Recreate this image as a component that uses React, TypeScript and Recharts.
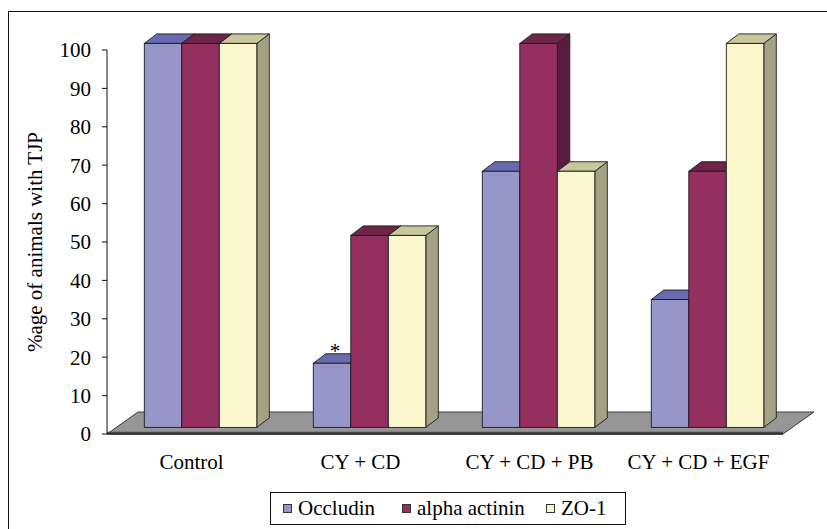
import React from 'react';
import { BarChart, Bar, XAxis, YAxis, ReferenceArea, Legend, LabelList } from 'recharts';

const SERIF = '"Liberation Serif", "Times New Roman", serif';

const groups = ['Control', 'CY + CD', 'CY + CD + PB', 'CY + CD + EGF'];
const occludin = [100, 16.7, 66.7, 33.3];
const alphaActinin = [100, 50, 100, 66.7];
const zo1 = [100, 50, 66.7, 100];
const occludinMarks = ['', '*', '', ''];
const yTicks = [0, 10, 20, 30, 40, 50, 60, 70, 80, 90, 100];
const edgeTicks = [0, 1, 2, 3, 4];

const data = groups.map((name, i) => ({
  name,
  occludin: occludin[i],
  alpha: alphaActinin[i],
  zo1: zo1[i],
  mark: occludinMarks[i],
}));

const series = [
  { key: 'occludin', name: 'Occludin', front: '#9696C8', top: '#6A6AB0', side: '#56568F' },
  { key: 'alpha', name: 'alpha actinin', front: '#952F5F', top: '#6F244A', side: '#5C1C3F' },
  { key: 'zo1', name: 'ZO-1', front: '#FAF7CE', top: '#C9C69C', side: '#A4A283' },
];

// pseudo 3-D: floor depth, where the bars sit on it, and bar depth
const FLOOR_DX = 31;
const FLOOR_DY = -22;
const SHIFT_X = 9.3;
const SHIFT_Y = -6.6;
const DEPTH_X = 12.5;
const DEPTH_Y = -9.5;
const EDGE = '#1c1c1c';

function makeBox(c: { front: string; top: string; side: string }) {
  return (props: any) => {
    const { x, y, width, height } = props;
    if (x == null || width == null || height == null) return <g />;
    const fx = x + SHIFT_X;
    const fy = y + SHIFT_Y;
    const w = width;
    const h = height;
    const top = `${fx},${fy} ${fx + DEPTH_X},${fy + DEPTH_Y} ${fx + w + DEPTH_X},${fy + DEPTH_Y} ${fx + w},${fy}`;
    const side = `${fx + w},${fy} ${fx + w + DEPTH_X},${fy + DEPTH_Y} ${fx + w + DEPTH_X},${fy + h + DEPTH_Y} ${fx + w},${fy + h}`;
    return (
      <g>
        <polygon points={side} fill={c.side} stroke={EDGE} strokeWidth={0.9} strokeLinejoin="round" />
        <polygon points={top} fill={c.top} stroke={EDGE} strokeWidth={0.9} strokeLinejoin="round" />
        <rect x={fx} y={fy} width={w} height={h} fill={c.front} stroke={EDGE} strokeWidth={0.9} />
      </g>
    );
  };
}

const Floor = (props: any) => {
  const { x, y, width, height } = props;
  const by = y + height;
  const pts = `${x},${by} ${x + FLOOR_DX},${by + FLOOR_DY} ${x + width + FLOOR_DX},${by + FLOOR_DY} ${x + width},${by}`;
  return (
    <g>
      <polygon points={pts} fill="#969696" stroke="#3a3a3a" strokeWidth={1} />
      <line x1={x} y1={by - 1} x2={x + width} y2={by - 1} stroke="#4a4a4a" strokeWidth={2.5} />
    </g>
  );
};

const CategoryTick = (props: any) => {
  const { x, y, payload } = props;
  return (
    <text x={x} y={y} dy={35} textAnchor="middle" fontSize={21} fontFamily={SERIF} fill="#000">
      {payload.value}
    </text>
  );
};

const StarLabel = (props: any) => {
  const { x, y, width, value } = props;
  if (!value) return null;
  return (
    <text x={x + SHIFT_X + width / 2 + 3} y={y + SHIFT_Y - 5.5} textAnchor="middle" fontSize={21} fontFamily={SERIF} fill="#000">
      {value}
    </text>
  );
};

const YLabel = (props: any) => {
  const vb = props.viewBox || { x: 47, y: 50, width: 60, height: 384 };
  const cx = vb.x - 12;
  const cy = vb.y + vb.height / 2;
  return (
    <text x={cx} y={cy} transform={`rotate(-90, ${cx}, ${cy})`} textAnchor="middle" dominantBaseline="central" fontSize={21} fontFamily={SERIF} fill="#000">
      %age of animals with TJP
    </text>
  );
};

const itemWidths = [119, 144, undefined];

const renderLegend = () => (
  <div
    style={{
      boxSizing: 'border-box',
      width: 356,
      height: 33,
      border: '1.3px solid #111',
      display: 'flex',
      alignItems: 'center',
      paddingLeft: 12,
      fontFamily: SERIF,
      fontSize: 21,
      color: '#000',
      background: '#fff',
    }}
  >
    {series.map((s, i) => (
      <div key={s.key} style={{ display: 'flex', alignItems: 'center', width: itemWidths[i] }}>
        <span
          style={{
            display: 'inline-block',
            width: 7,
            height: 7,
            border: '1px solid #333',
            background: s.front,
            marginRight: 6,
          }}
        />
        <span style={{ lineHeight: 1 }}>{s.name}</span>
      </div>
    ))}
  </div>
);

export default function App() {
  return (
    <div style={{ position: 'absolute', left: 0, top: 0, width: 827, height: 529, background: '#fff', overflow: 'hidden' }}>
      <div
        style={{
          position: 'absolute',
          left: 8,
          top: 11,
          width: 900,
          height: 600,
          borderLeft: '1.5px solid #111',
          borderTop: '1.5px solid #111',
        }}
      />
      <BarChart
        width={827}
        height={529}
        data={data}
        margin={{ top: 50, right: 44, left: 47, bottom: 55 }}
        barGap={0}
        barSize={37.5}
        style={{ position: 'absolute', left: 0, top: 0 }}
      >
        <ReferenceArea y1={0} y2={100} shape={<Floor />} />
        <XAxis
          xAxisId="edges"
          type="number"
          domain={[0, 4]}
          ticks={edgeTicks}
          allowDataOverflow
          tick={false}
          tickSize={6}
          tickLine={{ stroke: '#111' }}
          axisLine={false}
          height={0}
        />
        <XAxis
          dataKey="name"
          height={40}
          tickLine={false}
          tickSize={0}
          tickMargin={0}
          axisLine={{ stroke: '#111', strokeWidth: 1 }}
          tick={<CategoryTick />}
          interval={0}
        />
        <YAxis
          domain={[0, 100]}
          ticks={yTicks}
          width={60}
          tickSize={5}
          tickMargin={11}
          tickLine={{ stroke: '#111' }}
          axisLine={{ stroke: '#111' }}
          tick={{ fontSize: 21, fontFamily: SERIF, fill: '#000' }}
          interval={0}
          label={{ content: <YLabel /> }}
        />
        {series.map((s) => (
          <Bar key={s.key} dataKey={s.key} name={s.name} fill={s.front} shape={makeBox(s)} isAnimationActive={false}>
            {s.key === 'occludin' && <LabelList dataKey="mark" content={<StarLabel />} />}
          </Bar>
        ))}
        <Legend
          verticalAlign="middle"
          align="center"
          layout="horizontal"
          wrapperStyle={{ position: 'absolute', left: 270, top: 492, width: 356, height: 33 }}
          content={renderLegend}
        />
      </BarChart>
    </div>
  );
}
